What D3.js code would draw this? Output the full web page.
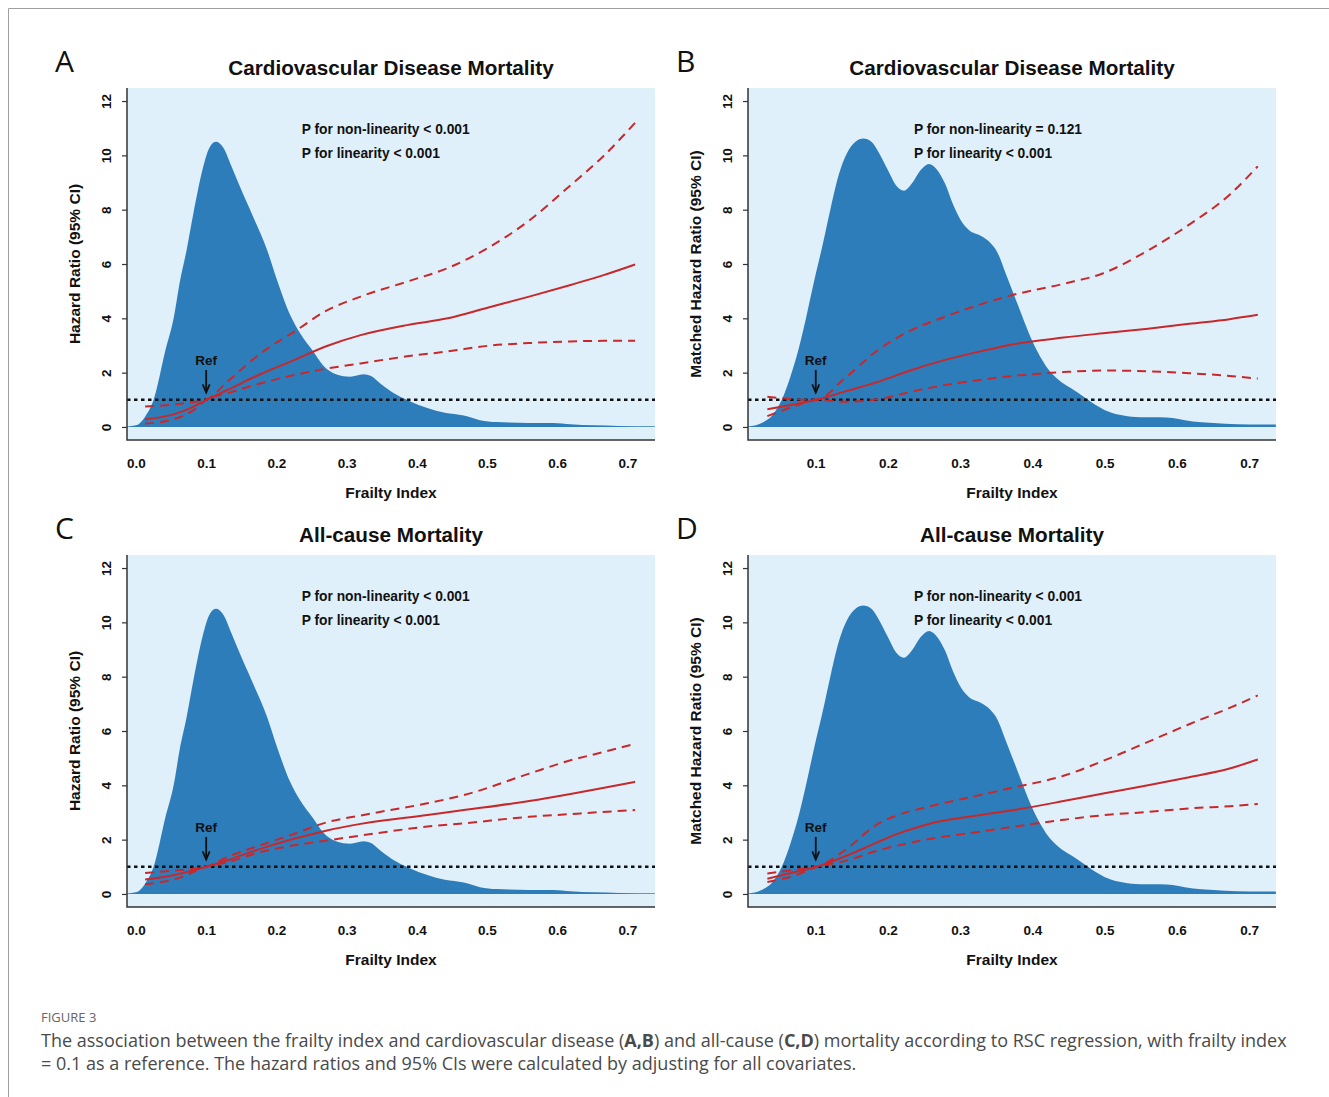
<!DOCTYPE html>
<html>
<head>
<meta charset="utf-8">
<script src="https://cdn.jsdelivr.net/npm/d3@7"></script>
<style>
  body { margin: 0; background: #fff; }
  text { font-family: "Liberation Sans", Arial, sans-serif; }
  text.cap { font-family: "Open Sans", sans-serif; }
</style>
</head>
<body>
<svg id="fig" width="1329" height="1097"></svg>
<script>
// frailty index density (same cohort in A/C, matched cohort in B/D)
var densXAC = [-0.013, 0.0, 0.013, 0.025, 0.042, 0.054, 0.062, 0.072, 0.082, 0.095, 0.105, 0.114, 0.124, 0.136, 0.148, 0.165, 0.187, 0.201, 0.22, 0.234, 0.251, 0.267, 0.286, 0.305, 0.324, 0.335, 0.348, 0.37, 0.39, 0.415, 0.44, 0.467, 0.49, 0.514, 0.56, 0.595, 0.619, 0.653, 0.688, 0.739];
var densYAC = [0.02, 0.06, 0.38, 0.99, 2.83, 4.05, 5.28, 6.5, 7.9, 9.5, 10.3, 10.5, 10.3, 9.6, 8.85, 7.85, 6.5, 5.4, 4.1, 3.44, 2.83, 2.25, 1.93, 1.85, 1.94, 1.88, 1.6, 1.2, 0.95, 0.7, 0.52, 0.42, 0.25, 0.18, 0.15, 0.15, 0.1, 0.06, 0.04, 0.03];
var densXBD = [0.006, 0.025, 0.042, 0.053, 0.065, 0.076, 0.087, 0.098, 0.11, 0.121, 0.132, 0.143, 0.155, 0.166, 0.177, 0.188, 0.2, 0.211, 0.222, 0.233, 0.245, 0.257, 0.267, 0.279, 0.29, 0.301, 0.312, 0.329, 0.341, 0.352, 0.363, 0.374, 0.386, 0.397, 0.408, 0.419, 0.436, 0.453, 0.47, 0.487, 0.504, 0.526, 0.549, 0.577, 0.594, 0.611, 0.634, 0.667, 0.701, 0.737];
var densYBD = [0.02, 0.15, 0.5, 1.0, 1.86, 2.84, 4.07, 5.4, 6.76, 8.1, 9.3, 10.07, 10.5, 10.62, 10.5, 10.07, 9.45, 8.9, 8.7, 8.96, 9.45, 9.68, 9.5, 8.96, 8.2, 7.6, 7.25, 7.03, 6.8, 6.4, 5.65, 4.9, 4.07, 3.33, 2.72, 2.23, 1.74, 1.43, 1.13, 0.82, 0.58, 0.42, 0.36, 0.36, 0.33, 0.25, 0.17, 0.12, 0.09, 0.09];

// A: cardiovascular disease mortality
var aX     = [0.013, 0.058, 0.082, 0.1, 0.13, 0.177, 0.225, 0.272, 0.32, 0.386, 0.444, 0.502, 0.56, 0.619, 0.665, 0.711];
var aHR    = [0.28, 0.50, 0.75, 1.0, 1.36, 1.94, 2.46, 2.98, 3.38, 3.75, 4.0, 4.4, 4.8, 5.23, 5.58, 5.98];
var aUpper = [0.75, 0.84, 0.92, 1.0, 1.66, 2.7, 3.5, 4.29, 4.8, 5.35, 5.85, 6.6, 7.6, 8.9, 9.95, 11.2];
var aLower = [0.12, 0.32, 0.62, 1.0, 1.24, 1.6, 1.91, 2.15, 2.34, 2.6, 2.78, 2.99, 3.09, 3.15, 3.17, 3.17];

// B: cardiovascular disease mortality, matched
var bX     = [0.033, 0.071, 0.101, 0.14, 0.186, 0.232, 0.278, 0.324, 0.37, 0.443, 0.498, 0.56, 0.617, 0.673, 0.712];
var bHR    = [0.65, 0.84, 1.0, 1.3, 1.66, 2.09, 2.46, 2.76, 3.03, 3.29, 3.45, 3.62, 3.8, 3.97, 4.13];
var bUpper = [1.11, 1.02, 1.0, 1.79, 2.83, 3.56, 4.05, 4.48, 4.84, 5.27, 5.66, 6.5, 7.45, 8.55, 9.6];
var bLower = [0.4, 0.77, 1.0, 0.93, 1.02, 1.3, 1.54, 1.72, 1.87, 2.02, 2.08, 2.05, 1.98, 1.88, 1.78];

// C: all-cause mortality
var cX     = [0.013, 0.058, 0.1, 0.13, 0.177, 0.225, 0.272, 0.32, 0.415, 0.467, 0.56, 0.619, 0.665, 0.711];
var cHR    = [0.53, 0.72, 1.0, 1.24, 1.66, 2.03, 2.34, 2.58, 2.91, 3.09, 3.42, 3.68, 3.9, 4.13];
var cUpper = [0.77, 0.87, 1.0, 1.36, 1.79, 2.21, 2.64, 2.89, 3.34, 3.64, 4.43, 4.92, 5.22, 5.53];
var cLower = [0.36, 0.56, 1.0, 1.17, 1.54, 1.79, 1.97, 2.15, 2.48, 2.6, 2.84, 2.94, 3.02, 3.09];

// D: all-cause mortality, matched
var dX     = [0.033, 0.071, 0.101, 0.14, 0.186, 0.213, 0.254, 0.324, 0.37, 0.443, 0.498, 0.56, 0.617, 0.673, 0.712];
var dHR    = [0.56, 0.81, 1.0, 1.38, 1.91, 2.21, 2.56, 2.89, 3.07, 3.42, 3.7, 4.0, 4.3, 4.62, 4.95];
var dUpper = [0.75, 0.89, 1.0, 1.6, 2.58, 2.9, 3.2, 3.62, 3.9, 4.35, 4.9, 5.6, 6.25, 6.85, 7.31];
var dLower = [0.44, 0.68, 1.0, 1.21, 1.6, 1.78, 2.01, 2.28, 2.46, 2.73, 2.9, 3.02, 3.15, 3.23, 3.31];

var yTicks = [0, 2, 4, 6, 8, 10, 12];
var xTicksAC = [0.0, 0.1, 0.2, 0.3, 0.4, 0.5, 0.6, 0.7];
var xTicksBD = [0.1, 0.2, 0.3, 0.4, 0.5, 0.6, 0.7];

var letters = ["A", "B", "C", "D"];
var titles = ["Cardiovascular Disease Mortality", "Cardiovascular Disease Mortality", "All-cause Mortality", "All-cause Mortality"];
var yLabels = ["Hazard Ratio (95% CI)", "Matched Hazard Ratio (95% CI)", "Hazard Ratio (95% CI)", "Matched Hazard Ratio (95% CI)"];
var pNonLinear = ["P for non-linearity < 0.001", "P for non-linearity = 0.121", "P for non-linearity < 0.001", "P for non-linearity < 0.001"];
var pLinear = ["P for linearity < 0.001", "P for linearity < 0.001", "P for linearity < 0.001", "P for linearity < 0.001"];
var refX = 0.1;

var densColor = "#2e7dbb", bgColor = "#dff0fb", red = "#c9282b";

var svg = d3.select("#fig");

// frame of the figure page
svg.append("path")
  .attr("d", "M8.5,1097 V8.5 H1329")
  .attr("fill", "none").attr("stroke", "#a0a0a0").attr("stroke-width", 1);

var panels = [
  { left: 127, top: 88, xDomain: [-0.0128, 0.7393], xTicks: xTicksAC, dx: densXAC, dy: densYAC, x: aX, hr: aHR, up: aUpper, lo: aLower },
  { left: 748, top: 88, xDomain: [0.0062, 0.7372], xTicks: xTicksBD, dx: densXBD, dy: densYBD, x: bX, hr: bHR, up: bUpper, lo: bLower },
  { left: 127, top: 555, xDomain: [-0.0128, 0.7393], xTicks: xTicksAC, dx: densXAC, dy: densYAC, x: cX, hr: cHR, up: cUpper, lo: cLower },
  { left: 748, top: 555, xDomain: [0.0062, 0.7372], xTicks: xTicksBD, dx: densXBD, dy: densYBD, x: dX, hr: dHR, up: dUpper, lo: dLower }
];
var pw = 528, ph = 352;

panels.forEach(function(p, i) {
  var x = d3.scaleLinear().domain(p.xDomain).range([p.left, p.left + pw]);
  var y = d3.scaleLinear().domain([-0.48, 12.48]).range([p.top + ph, p.top]);
  var g = svg.append("g");

  g.append("clipPath").attr("id", "clip" + i)
    .append("rect").attr("x", p.left).attr("y", p.top).attr("width", pw).attr("height", ph);

  g.append("rect")
    .attr("x", p.left).attr("y", p.top).attr("width", pw).attr("height", ph)
    .attr("fill", bgColor);

  var plot = g.append("g").attr("clip-path", "url(#clip" + i + ")");

  // density of the frailty index
  var dens = p.dx.map(function(v, k) { return [v, p.dy[k]]; });
  plot.append("path")
    .datum(dens)
    .attr("fill", densColor)
    .attr("d", d3.area()
      .x(function(d) { return x(d[0]); })
      .y0(y(0))
      .y1(function(d) { return y(d[1]); })
      .curve(d3.curveMonotoneX));

  // reference line HR = 1
  plot.append("line")
    .attr("x1", p.left).attr("x2", p.left + pw)
    .attr("y1", y(1)).attr("y2", y(1))
    .attr("stroke", "#111").attr("stroke-width", 2.5)
    .attr("stroke-dasharray", "3.5,3.5");

  var line = d3.line()
    .x(function(d) { return x(d[0]); })
    .y(function(d) { return y(d[1]); })
    .curve(d3.curveMonotoneX);
  [[p.up, "9,6"], [p.lo, "9,6"], [p.hr, null]].forEach(function(s) {
    plot.append("path")
      .datum(p.x.map(function(v, k) { return [v, s[0][k]]; }))
      .attr("fill", "none")
      .attr("stroke", red)
      .attr("stroke-width", 2)
      .attr("stroke-dasharray", s[1])
      .attr("d", line);
  });

  // axes (R style, L shaped box)
  var yAxis = g.append("g")
    .attr("transform", "translate(" + p.left + ",0)")
    .call(d3.axisLeft(y).tickValues(yTicks).tickSize(5).tickFormat(d3.format("d")));
  yAxis.select(".domain").remove();
  yAxis.selectAll(".tick line").attr("stroke", "#333").attr("stroke-width", 1.2);
  yAxis.selectAll(".tick text")
    .attr("transform", "rotate(-90)")
    .attr("x", 0).attr("y", -16).attr("dy", 0)
    .attr("text-anchor", "middle")
    .style("font-family", "'Liberation Sans', Arial, sans-serif")
    .style("font-size", "13.5px").style("font-weight", "bold").attr("fill", "#111");

  var xAxis = g.append("g")
    .attr("transform", "translate(0," + (p.top + ph) + ")")
    .call(d3.axisBottom(x).tickValues(p.xTicks).tickSize(0).tickFormat(d3.format(".1f")));
  xAxis.select(".domain").remove();
  xAxis.selectAll(".tick text")
    .attr("y", 28).attr("dy", 0)
    .style("font-family", "'Liberation Sans', Arial, sans-serif")
    .style("font-size", "13.5px").style("font-weight", "bold").attr("fill", "#111");

  g.append("path")
    .attr("d", "M" + p.left + "," + p.top + " V" + (p.top + ph) + " H" + (p.left + pw))
    .attr("fill", "none").attr("stroke", "#333").attr("stroke-width", 1.5);

  // texts
  g.append("text")
    .attr("x", p.left - 72).attr("y", p.top - 16)
    .style("font-family", "'Open Sans', sans-serif")
    .style("font-size", "30px").attr("fill", "#111")
    .text(letters[i]);

  g.append("text")
    .attr("x", p.left + pw / 2).attr("y", p.top - 13)
    .attr("text-anchor", "middle")
    .style("font-size", "20.7px").style("font-weight", "bold").attr("fill", "#111")
    .text(titles[i]);

  g.append("text")
    .attr("transform", "translate(" + (p.left - 47) + "," + (p.top + ph / 2) + ") rotate(-90)")
    .attr("text-anchor", "middle")
    .style("font-size", "15.5px").style("font-weight", "bold").attr("fill", "#111")
    .text(yLabels[i]);

  g.append("text")
    .attr("x", p.left + pw / 2).attr("y", p.top + ph + 58)
    .attr("text-anchor", "middle")
    .style("font-size", "15.5px").style("font-weight", "bold").attr("fill", "#111")
    .text("Frailty Index");

  g.append("text")
    .attr("x", x(0.236)).attr("y", y(10.8))
    .style("font-size", "13.8px").style("font-weight", "bold").attr("fill", "#111")
    .text(pNonLinear[i]);
  g.append("text")
    .attr("x", x(0.236)).attr("y", y(9.92))
    .style("font-size", "13.8px").style("font-weight", "bold").attr("fill", "#111")
    .text(pLinear[i]);

  // reference marker
  g.append("text")
    .attr("x", x(refX)).attr("y", y(2.28))
    .attr("text-anchor", "middle")
    .style("font-size", "13.5px").style("font-weight", "bold").attr("fill", "#111")
    .text("Ref");
  var ax = x(refX), ay0 = y(2.1), ay1 = y(1.27);
  g.append("line")
    .attr("x1", ax).attr("x2", ax).attr("y1", ay0).attr("y2", ay1)
    .attr("stroke", "#111").attr("stroke-width", 1.8);
  g.append("path")
    .attr("d", "M" + (ax - 3.5) + "," + (ay1 - 8) + " L" + ax + "," + ay1 + " L" + (ax + 3.5) + "," + (ay1 - 8))
    .attr("fill", "none").attr("stroke", "#111").attr("stroke-width", 1.8);
});

// caption
svg.append("text").attr("class", "cap").attr("x", 41).attr("y", 1022)
  .style("font-size", "13px").attr("fill", "#666").text("FIGURE 3");
var l1 = svg.append("text").attr("class", "cap").attr("x", 41).attr("y", 1047)
  .style("font-size", "18px").attr("fill", "#4a4a4a");
l1.append("tspan").text("The association between the frailty index and cardiovascular disease (");
l1.append("tspan").style("font-weight", "bold").text("A,B");
l1.append("tspan").text(") and all-cause (");
l1.append("tspan").style("font-weight", "bold").text("C,D");
l1.append("tspan").text(") mortality according to RSC regression, with frailty index");
svg.append("text").attr("class", "cap").attr("x", 41).attr("y", 1070)
  .style("font-size", "18px").attr("fill", "#4a4a4a")
  .text("= 0.1 as a reference. The hazard ratios and 95% CIs were calculated by adjusting for all covariates.");
</script>
</body>
</html>
